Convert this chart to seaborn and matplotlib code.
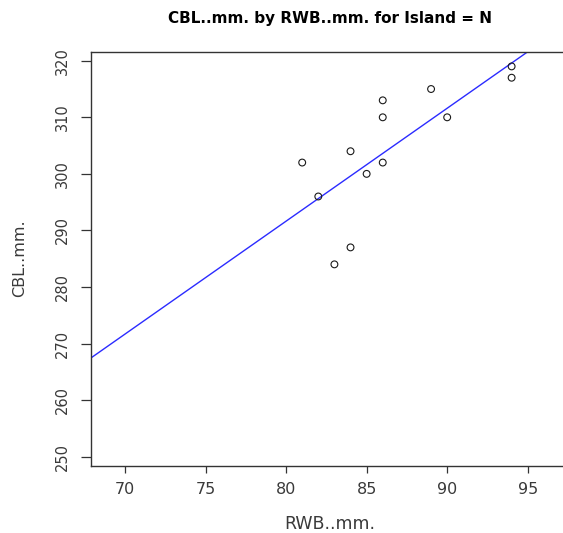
import numpy as np
import pandas as pd
import matplotlib
matplotlib.use("Agg")
import matplotlib.pyplot as plt
import seaborn as sns

# values (Island = N)
rwb = [94, 94, 89, 86, 86, 90, 84, 81, 86, 85, 82, 84, 83]
cbl = [319, 317, 315, 313, 310, 310, 304, 302, 302, 300, 296, 287, 284]
x_ticks = [70, 75, 80, 85, 90, 95]
y_ticks = [250, 260, 270, 280, 290, 300, 310, 320]

df = pd.DataFrame({"RWB..mm.": rwb, "CBL..mm.": cbl})

sns.set_style("white")
plt.rcParams["font.family"] = ["DejaVu Sans"]

fig = plt.figure(figsize=(5.63, 5.33), dpi=100)
W, H = 563, 533
# axes box in pixels; right edge runs just past the picture like the reference
left, right, top, bottom = 91, 568, 51.7, 465.7
ax = fig.add_axes([left / W, 1 - bottom / H, (right - left) / W, (bottom - top) / H])

ax.set_xlim(67.89, 97.5)
ax.set_ylim(248.4, 321.6)

sns.regplot(data=df, x="RWB..mm.", y="CBL..mm.", ax=ax, ci=None, truncate=False,
            scatter_kws={"facecolors": "none", "edgecolors": "#1a1a1a", "s": 24,
                         "linewidths": 0.8, "alpha": 1, "zorder": 3},
            line_kws={"color": "#2b2bff", "lw": 1.0, "zorder": 2})

ax.set_xlim(67.89, 97.5)
ax.set_ylim(248.4, 321.6)
ax.set_xticks(x_ticks)
ax.set_yticks(y_ticks)
ax.tick_params(axis="x", direction="out", length=5, width=0.9, color="#333333",
               labelsize=11.5, labelcolor="#3a3a3a", pad=7, bottom=True)
ax.tick_params(axis="y", direction="out", length=7, width=0.9, color="#333333",
               labelsize=10.5, labelcolor="#3a3a3a", pad=8, left=True)
for lab in ax.get_yticklabels():
    lab.set_rotation(90)
    lab.set_va("center")

for sp in ax.spines.values():
    sp.set_color("#333333")
    sp.set_linewidth(1.0)
ax.spines["right"].set_visible(False)

ax.set_xlabel("")
ax.set_ylabel("")
fig.text(329.5 / W, 1 - 524 / H, "RWB..mm.", ha="center", va="center",
         fontsize=12.5, color="#3a3a3a")
fig.text(20 / W, 1 - 258 / H, "CBL..mm.", ha="center", va="center",
         rotation=90, fontsize=11.5, color="#3a3a3a")
fig.text(329.5 / W, 1 - 19 / H, "CBL..mm. by RWB..mm. for Island = N",
         ha="center", va="center", fontsize=11, fontweight="bold", color="black")

fig.savefig("out.png", dpi=100)
